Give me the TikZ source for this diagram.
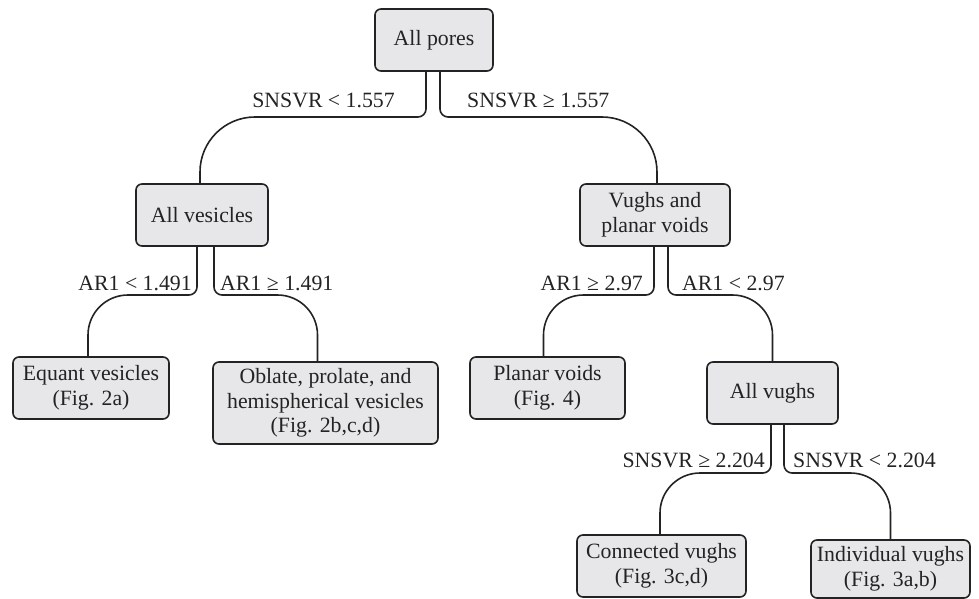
\documentclass[tikz,border=0pt]{standalone}
\usepackage{fontspec}
\setmainfont{Liberation Serif}
\definecolor{boxfill}{RGB}{231,231,233}
\definecolor{ink}{RGB}{35,35,35}
\begin{document}
\begin{tikzpicture}[x=1pt,y=-1pt,
  box/.style={draw=ink, fill=boxfill, line width=1.6pt, rounded corners=6pt,
    align=center, inner sep=0pt, font=\fontsize{21.8}{24.5}\selectfont, text=ink},
  lbl/.style={inner sep=0pt, font=\fontsize{21.8}{24.5}\selectfont, text=ink},
  conn/.style={draw=ink, line width=1.6pt}]
\useasboundingbox (0,0) rectangle (979,599);
% nodes
\node[box, minimum width=118pt, minimum height=62pt] (ap) at (434,40) {All pores};
\node[box, minimum width=132pt, minimum height=62pt] (av) at (202,215) {All vesicles};
\node[box, minimum width=150pt, minimum height=62pt] (vp) at (655,215) {Vughs and\\planar voids};
\node[box, minimum width=156pt, minimum height=62pt] (eq) at (91,388) {Equant vesicles\\(Fig. 2a)};
\node[box, minimum width=225pt, minimum height=82pt] (ob) at (325.5,403) {Oblate, prolate, and\\hemispherical vesicles\\(Fig. 2b,c,d)};
\node[box, minimum width=155pt, minimum height=62pt] (pv) at (547.5,388) {Planar voids\\(Fig. 4)};
\node[box, minimum width=131pt, minimum height=62pt] (vu) at (772.5,393) {All vughs};
\node[box, minimum width=169pt, minimum height=62pt] (cv) at (661.5,566) {Connected vughs\\(Fig. 3c,d)};
\node[box, minimum width=159pt, minimum height=58pt] (iv) at (890.5,569) {Individual vughs\\(Fig. 3a,b)};
% split points
\coordinate (m1) at (380,117);
\coordinate (m2) at (500,117);
\coordinate (m3) at (160,295);
\coordinate (m4) at (250,295);
\coordinate (m5) at (600,295);
\coordinate (m6) at (720,295);
\coordinate (m7) at (716,473);
\coordinate (m8) at (838,473);
% connectors
\draw[conn, rounded corners=8pt] ([xshift=-8pt]ap.south) |- (m1);
\draw[conn, rounded corners=55pt] (m1) -| ([xshift=-2pt]av.north);
\draw[conn, rounded corners=8pt] ([xshift=6pt]ap.south) |- (m2);
\draw[conn, rounded corners=55pt] (m2) -| ([xshift=2pt]vp.north);
\draw[conn, rounded corners=8pt] ([xshift=-5pt]av.south) |- (m3);
\draw[conn, rounded corners=40pt] (m3) -| ([xshift=-3pt]eq.north);
\draw[conn, rounded corners=8pt] ([xshift=12pt]av.south) |- (m4);
\draw[conn, rounded corners=40pt] (m4) -| ([xshift=-8pt]ob.north);
\draw[conn, rounded corners=8pt] ([xshift=-1pt]vp.south) |- (m5);
\draw[conn, rounded corners=40pt] (m5) -| ([xshift=-4pt]pv.north);
\draw[conn, rounded corners=8pt] ([xshift=13pt]vp.south) |- (m6);
\draw[conn, rounded corners=40pt] (m6) -| (vu.north);
\draw[conn, rounded corners=8pt] ([xshift=-1.5pt]vu.south) |- (m7);
\draw[conn, rounded corners=40pt] (m7) -| ([xshift=-1.5pt]cv.north);
\draw[conn, rounded corners=8pt] ([xshift=11.5pt]vu.south) |- (m8);
\draw[conn, rounded corners=40pt] (m8) -| (iv.north);
% labels
\node[lbl, anchor=base east] (l1) at (395,107) {SNSVR < 1.557};
\node[lbl, anchor=base west] (l2) at (467,107) {SNSVR ≥ 1.557};
\node[lbl, anchor=base east] (l3) at (192,290) {AR1 < 1.491};
\node[lbl, anchor=base west] (l4) at (220,290) {AR1 ≥ 1.491};
\node[lbl, anchor=base east] (l5) at (643,290) {AR1 ≥ 2.97};
\node[lbl, anchor=base west] (l6) at (682,290) {AR1 < 2.97};
\node[lbl, anchor=base east] (l7) at (765,467) {SNSVR ≥ 2.204};
\node[lbl, anchor=base west] (l8) at (793,467) {SNSVR < 2.204};
\end{tikzpicture}
\end{document}
